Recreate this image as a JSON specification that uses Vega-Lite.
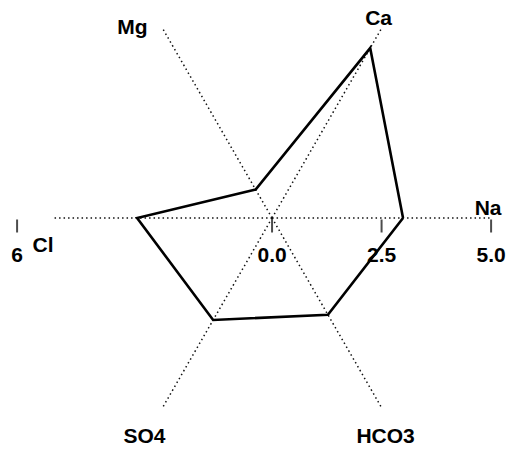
{
  "$schema": "https://vega.github.io/schema/vega-lite/v6.json",
  "width": 513,
  "height": 449,
  "autosize": {"type": "fit", "contains": "padding"},
  "padding": 0,
  "background": "white",
  "config": {
    "view": {"stroke": null},
    "axis": {"disable": true},
    "text": {"font": "Liberation Sans", "fontSize": 21, "fontWeight": "bold", "fill": "black"}
  },
  "datasets": {
    "axes": [
      {"ion": "Na", "angle": 0, "end": 5},
      {"ion": "Ca", "angle": 60, "end": 5},
      {"ion": "Mg", "angle": 120, "end": 5},
      {"ion": "Cl", "angle": 180, "end": 5},
      {"ion": "SO4", "angle": 240, "end": 5},
      {"ion": "HCO3", "angle": 300, "end": 5}
    ],
    "sample": [
      {"ion": "Na", "angle": 0, "value": 2.99, "step": 1},
      {"ion": "Ca", "angle": 60, "value": 4.48, "step": 2},
      {"ion": "Mg", "angle": 120, "value": 0.75, "step": 3},
      {"ion": "Cl", "angle": 180, "value": 3.08, "step": 4},
      {"ion": "SO4", "angle": 240, "value": 2.69, "step": 5},
      {"ion": "HCO3", "angle": 300, "value": 2.55, "step": 6},
      {"ion": "Na", "angle": 360, "value": 2.99, "step": 7}
    ],
    "ticks": [
      {"v": 0, "label": "0.0"},
      {"v": 2.5, "label": "2.5"},
      {"v": 5, "label": "5.0"},
      {"v": -5.82, "label": "6"}
    ]
  },
  "layer": [
    {
      "data": {"name": "axes"},
      "transform": [
        {"calculate": "0", "as": "ox"},
        {"calculate": "datum.end * cos(datum.angle * PI / 180)", "as": "ex"},
        {"calculate": "datum.end * sin(datum.angle * PI / 180)", "as": "ey"}
      ],
      "mark": {"type": "rule", "color": "#111", "strokeWidth": 1.5, "strokeDash": [1.5, 3]},
      "encoding": {
        "x": {"field": "ox", "type": "quantitative", "scale": {"domain": [-6.21, 5.5], "nice": false, "zero": false}},
        "y": {"field": "ox", "type": "quantitative", "scale": {"domain": [-5.274, 4.977], "nice": false, "zero": false}},
        "x2": {"field": "ex"},
        "y2": {"field": "ey"}
      }
    },
    {
      "data": {"name": "sample"},
      "transform": [
        {"calculate": "datum.value * cos(datum.angle * PI / 180)", "as": "px"},
        {"calculate": "datum.value * sin(datum.angle * PI / 180)", "as": "py"}
      ],
      "mark": {"type": "line", "color": "black", "strokeWidth": 2.6, "strokeJoin": "miter"},
      "encoding": {
        "x": {"field": "px", "type": "quantitative", "scale": {"domain": [-6.21, 5.5], "nice": false, "zero": false}},
        "y": {"field": "py", "type": "quantitative", "scale": {"domain": [-5.274, 4.977], "nice": false, "zero": false}},
        "order": {"field": "step", "type": "quantitative"}
      }
    },
    {
      "data": {"name": "ticks"},
      "transform": [{"calculate": "0", "as": "base"}],
      "mark": {"type": "tick", "orient": "vertical", "color": "black", "thickness": 2, "size": 13, "yOffset": 8},
      "encoding": {
        "x": {"field": "v", "type": "quantitative", "scale": {"domain": [-6.21, 5.5], "nice": false, "zero": false}},
        "y": {"field": "base", "type": "quantitative", "scale": {"domain": [-5.274, 4.977], "nice": false, "zero": false}}
      }
    },
    {
      "data": {"name": "ticks"},
      "transform": [{"calculate": "0", "as": "base"}],
      "mark": {"type": "text", "align": "center", "baseline": "alphabetic", "dy": 44},
      "encoding": {
        "x": {"field": "v", "type": "quantitative", "scale": {"domain": [-6.21, 5.5], "nice": false, "zero": false}},
        "y": {"field": "base", "type": "quantitative", "scale": {"domain": [-5.274, 4.977], "nice": false, "zero": false}},
        "text": {"field": "label"}
      }
    },
    {
      "data": {"name": "axes"},
      "transform": [
        {"filter": "datum.ion === 'Na' || datum.ion === 'Ca'"},
        {"calculate": "datum.end * cos(datum.angle * PI / 180)", "as": "ex"},
        {"calculate": "datum.end * sin(datum.angle * PI / 180)", "as": "ey"}
      ],
      "mark": {"type": "text", "align": "center", "baseline": "alphabetic", "dx": -3, "dy": -3},
      "encoding": {
        "x": {"field": "ex", "type": "quantitative", "scale": {"domain": [-6.21, 5.5], "nice": false, "zero": false}},
        "y": {"field": "ey", "type": "quantitative", "scale": {"domain": [-5.274, 4.977], "nice": false, "zero": false}},
        "text": {"field": "ion"}
      }
    },
    {
      "data": {"name": "axes"},
      "transform": [
        {"filter": "datum.ion === 'Mg'"},
        {"calculate": "datum.end * cos(datum.angle * PI / 180)", "as": "ex"},
        {"calculate": "datum.end * sin(datum.angle * PI / 180)", "as": "ey"}
      ],
      "mark": {"type": "text", "align": "center", "baseline": "alphabetic", "dx": -30, "dy": 6},
      "encoding": {
        "x": {"field": "ex", "type": "quantitative", "scale": {"domain": [-6.21, 5.5], "nice": false, "zero": false}},
        "y": {"field": "ey", "type": "quantitative", "scale": {"domain": [-5.274, 4.977], "nice": false, "zero": false}},
        "text": {"field": "ion"}
      }
    },
    {
      "data": {"name": "axes"},
      "transform": [
        {"filter": "datum.ion === 'Cl'"},
        {"calculate": "datum.end * cos(datum.angle * PI / 180)", "as": "ex"},
        {"calculate": "datum.end * sin(datum.angle * PI / 180)", "as": "ey"}
      ],
      "mark": {"type": "text", "align": "center", "baseline": "alphabetic", "dx": -10, "dy": 34},
      "encoding": {
        "x": {"field": "ex", "type": "quantitative", "scale": {"domain": [-6.21, 5.5], "nice": false, "zero": false}},
        "y": {"field": "ey", "type": "quantitative", "scale": {"domain": [-5.274, 4.977], "nice": false, "zero": false}},
        "text": {"field": "ion"}
      }
    },
    {
      "data": {"name": "axes"},
      "transform": [
        {"filter": "datum.ion === 'SO4'"},
        {"calculate": "datum.end * cos(datum.angle * PI / 180)", "as": "ex"},
        {"calculate": "datum.end * sin(datum.angle * PI / 180)", "as": "ey"}
      ],
      "mark": {"type": "text", "align": "center", "baseline": "alphabetic", "dx": -18, "dy": 35},
      "encoding": {
        "x": {"field": "ex", "type": "quantitative", "scale": {"domain": [-6.21, 5.5], "nice": false, "zero": false}},
        "y": {"field": "ey", "type": "quantitative", "scale": {"domain": [-5.274, 4.977], "nice": false, "zero": false}},
        "text": {"field": "ion"}
      }
    },
    {
      "data": {"name": "axes"},
      "transform": [
        {"filter": "datum.ion === 'HCO3'"},
        {"calculate": "datum.end * cos(datum.angle * PI / 180)", "as": "ex"},
        {"calculate": "datum.end * sin(datum.angle * PI / 180)", "as": "ey"}
      ],
      "mark": {"type": "text", "align": "center", "baseline": "alphabetic", "dx": 4, "dy": 35},
      "encoding": {
        "x": {"field": "ex", "type": "quantitative", "scale": {"domain": [-6.21, 5.5], "nice": false, "zero": false}},
        "y": {"field": "ey", "type": "quantitative", "scale": {"domain": [-5.274, 4.977], "nice": false, "zero": false}},
        "text": {"field": "ion"}
      }
    }
  ]
}
